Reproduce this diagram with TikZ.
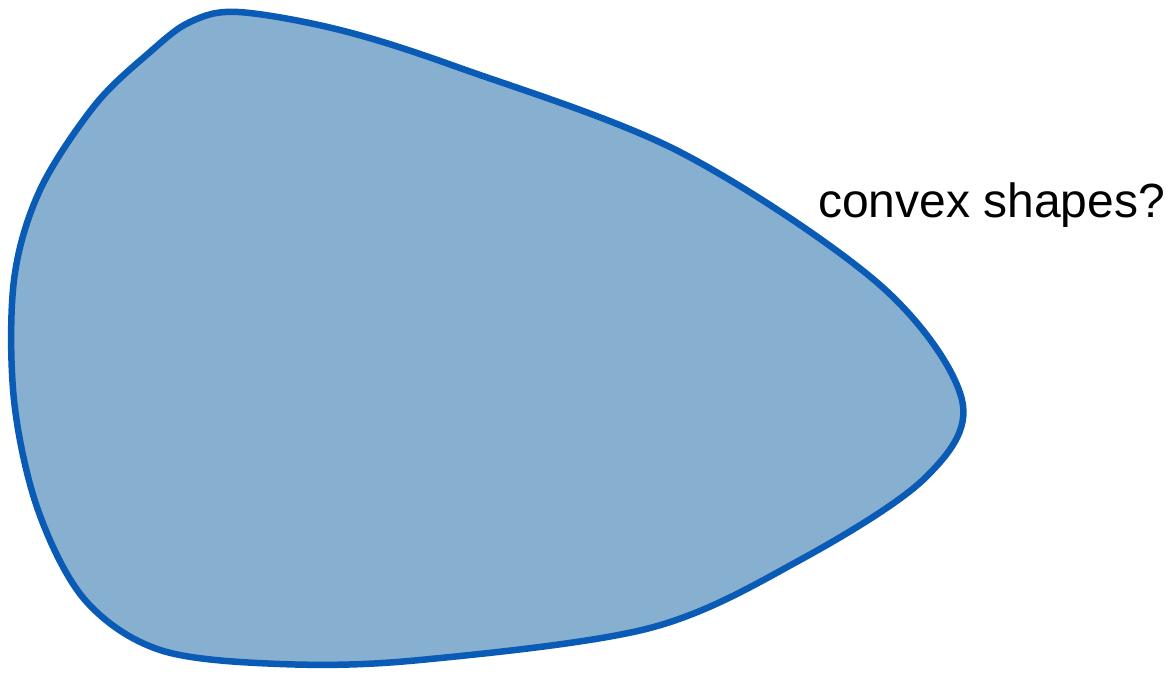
\documentclass[tikz,border=0pt]{standalone}
\usepackage{fontspec}
\setmainfont{Liberation Sans}
\definecolor{blobfill}{HTML}{87AFD0}
\definecolor{blobline}{HTML}{0A5BB5}
\begin{document}
\begin{tikzpicture}[x=1pt,y=-1pt,
  blob/.style={draw=blobline,fill=blobfill,line width=6.5pt,line join=round},
  lbl/.style={anchor=base west,inner sep=0pt,font=\fontsize{48}{52}\selectfont}]
\useasboundingbox (0,0) rectangle (1170,674);
\draw[blob] plot[smooth cycle,tension=0.55] coordinates {
  (238,12) (340,30) (460,68) (680,152) (880,285) (962,400) (925,478)
  (800,560) (650,628) (420,660) (280,664) (160,650) (85,600)
  (38,510) (14,400) (14,280) (40,190) (95,105) (150,52) (190,22)};
\node[lbl] (t) at (818,217) {convex shapes?};
\end{tikzpicture}
\end{document}
